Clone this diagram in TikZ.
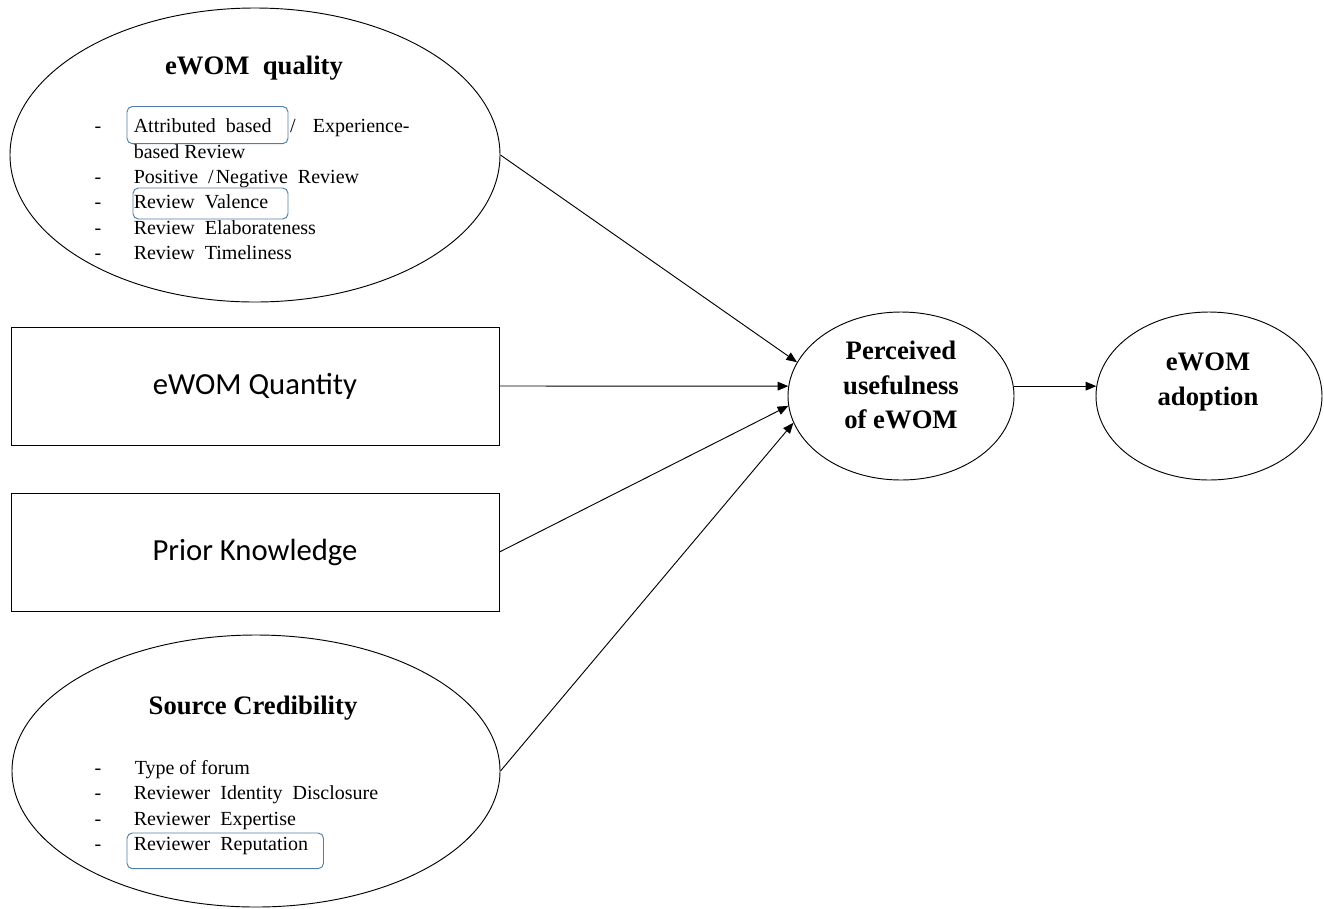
\documentclass[tikz,border=0pt]{standalone}
\usepackage{fontspec}
\setmainfont{Liberation Serif}
\newfontfamily\calibri{Carlito}
\usepackage{xcolor}
\usetikzlibrary{arrows.meta, shapes.geometric}
\definecolor{hiliteblue}{RGB}{84,125,165}
\newcommand\wideskip{\spaceskip=0.5em\relax}

\begin{document}
\begin{tikzpicture}[x=0.75pt, y=-0.75pt, >={Triangle[length=8pt,width=6.5pt]},
    factor/.style={draw, ellipse, line width=0.7pt, inner sep=0pt},
    block/.style={draw, rectangle, line width=0.7pt, minimum width=366pt,
                  minimum height=88.5pt, font=\calibri\fontsize{23}{28}\selectfont},
    heading/.style={font=\bfseries\fontsize{20}{26}\selectfont, align=center, inner sep=0pt},
    plainitem/.style={anchor=mid west, inner sep=0pt, font=\fontsize{15}{19}\selectfont},
    item/.style={plainitem, execute at begin node=\wideskip},
    bullet/.style={anchor=mid, inner sep=0pt, font=\fontsize{15}{19}\selectfont},
    hilite/.style={draw=hiliteblue, line width=0.7pt, rounded corners=4pt}]

  \useasboundingbox (0,0) rectangle (1324,908);

  % determinants
  \node[factor, minimum width=367.5pt, minimum height=220.5pt] (qual) at (255,155) {};
  \node[block] (qty) at (255,386) {eWOM Quantity};
  \node[block] (prior) at (255,552) {Prior Knowledge};
  \node[factor, minimum width=366pt, minimum height=204pt] (cred) at (256,771) {};

  % eWOM quality
  \node[heading] (qualtitle) at (254,68) {eWOM\ \ quality};
  \foreach \y in {129.5,180,205.5,231,256}
    \node[bullet] at (98,\y) {-};
  \node[item] (q1a) at (133.5,129.5) {Attributed based};
  \node[bullet] (q1s) at (293,129.5) {/};
  \node[item] (q1b) at (312.7,129.5) {Experience-};
  \node[plainitem] (q2) at (133.5,155.5) {based Review};
  \node[item] (q3) at (133.5,180) {Positive /\hspace{0.1em}Negative Review};
  \node[item] (q4) at (133.5,205.5) {Review Valence};
  \node[item] (q5) at (133.5,231) {Review Elaborateness};
  \node[item] (q6) at (133.5,256) {Review Timeliness};
  \draw[hilite] (127,106.5) rectangle (288,143.7);
  \draw[hilite] (133,188) rectangle (288,219);

  % source credibility
  \node[heading] (credtitle) at (253,708) {Source Credibility};
  \foreach \y in {771.6,796,822,847}
    \node[bullet] at (98,\y) {-};
  \node[plainitem] (c1) at (134.5,771.6) {Type of forum};
  \node[item] (c2) at (133.5,796) {Reviewer Identity Disclosure};
  \node[item] (c3) at (133.5,822) {Reviewer Expertise};
  \node[item] (c4) at (133.5,847) {Reviewer Reputation};
  \draw[hilite] (127,833) rectangle (323.5,868.6);

  % outcome constructs
  \node[factor, minimum width=169.5pt, minimum height=126pt] (pu) at (901,396) {};
  \node[heading] (putext) at (901,385) {Perceived\\usefulness\\of eWOM};
  \node[factor, minimum width=169.5pt, minimum height=126pt] (adopt) at (1209,396) {};
  \node[heading] (adopttext) at (1208,382) {eWOM\\adoption};

  \foreach \s/\a in {qual.east/162, qty.east/175, prior.east/185, cred.east/194}
    \draw[->, line width=0.7pt] (\s) -- (pu.\a);
  \draw[->, line width=0.7pt] (pu.5) -- (adopt.175);
\end{tikzpicture}
\end{document}
